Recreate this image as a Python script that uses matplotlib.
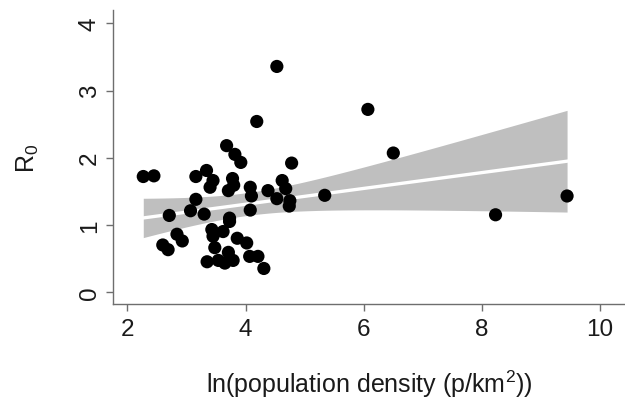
import numpy as np
import matplotlib
matplotlib.use('Agg')
import matplotlib.pyplot as plt

plt.rcParams['font.family'] = ['Liberation Sans', 'DejaVu Sans']

# ln(population density) and R0
lnpd = [2.27, 2.45, 3.16, 3.34, 3.45, 3.40, 3.78, 3.80, 3.71, 3.68, 3.82, 3.92,
        4.78, 4.08, 4.10, 4.38, 4.62, 4.68, 4.53, 4.75, 4.74, 3.16, 3.07, 3.30,
        4.08, 3.73, 2.71, 3.73, 3.43, 3.62, 3.45, 2.84, 2.93, 2.60, 2.69, 3.48,
        3.86, 4.02, 3.71, 3.35, 3.54, 3.65, 3.79, 4.07, 4.21, 4.31,
        4.53, 4.19, 6.07, 6.50, 5.34, 8.23, 9.44]
r0 = [1.72, 1.73, 1.72, 1.81, 1.66, 1.56, 1.69, 1.59, 1.51, 2.18, 2.05, 1.93,
      1.92, 1.56, 1.43, 1.51, 1.66, 1.54, 1.39, 1.36, 1.28, 1.38, 1.21, 1.16,
      1.22, 1.10, 1.14, 1.05, 0.93, 0.90, 0.83, 0.86, 0.76, 0.70, 0.63, 0.66,
      0.80, 0.73, 0.59, 0.45, 0.47, 0.43, 0.47, 0.53, 0.53, 0.35,
      3.36, 2.54, 2.72, 2.07, 1.44, 1.15, 1.43]

x = np.array(lnpd)
y = np.array(r0)

# linear fit with 95% CI of the mean
n = len(x)
b, a = np.polyfit(x, y, 1)
res = y - (a + b * x)
s = np.sqrt(np.sum(res ** 2) / (n - 2))
xs = np.linspace(x.min(), x.max(), 100)
fit = a + b * xs
se = s * np.sqrt(1.0 / n + (xs - x.mean()) ** 2 / np.sum((x - x.mean()) ** 2))
t = 2.008

fig = plt.figure(figsize=(6.25, 4.1), dpi=100)
ax = fig.add_axes([0.181, 0.256, 0.819, 0.717])

ax.fill_between(xs, fit - t * se, fit + t * se, color='#bfbfbf', lw=0, zorder=1)
ax.plot(xs, fit, color='white', lw=2.4, zorder=2)
ax.scatter(x, y, s=90, color='black', zorder=3, edgecolors='none')

ax.set_xlim(1.76, 10.42)
ax.set_ylim(-0.18, 4.2)
ax.set_xticks([2, 4, 6, 8, 10])
ax.set_yticks([0, 1, 2, 3, 4])

for side in ['top', 'right']:
    ax.spines[side].set_visible(False)
for side in ['left', 'bottom']:
    ax.spines[side].set_color('#6e6e6e')
    ax.spines[side].set_linewidth(1.0)

ax.tick_params(axis='both', colors='#6e6e6e', length=5, width=1.0,
               labelsize=17.5, labelcolor='#1a1a1a')
ax.tick_params(axis='y', pad=4)
ax.tick_params(axis='x', pad=5)
for lab in ax.get_yticklabels():
    lab.set_rotation(90)
    lab.set_va('center')

ax.set_xlabel(r'ln(population density (p/km$^\mathregular{2}$))', fontsize=18,
              color='#1a1a1a', labelpad=20)
ax.set_ylabel(r'R$_\mathregular{0}$', fontsize=18, color='#1a1a1a', labelpad=27)

fig.savefig('out.png', dpi=100)
